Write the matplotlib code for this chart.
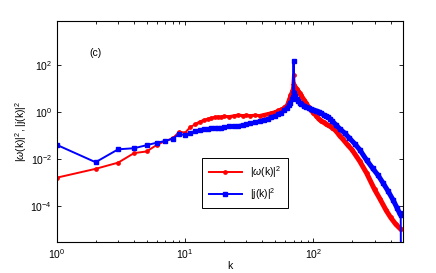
import numpy as np
import matplotlib
matplotlib.use("Agg")
import matplotlib.pyplot as plt

plt.rcParams['font.family'] = ['Liberation Sans', 'DejaVu Sans']
plt.rcParams['mathtext.fontset'] = 'custom'
plt.rcParams['mathtext.rm'] = 'Liberation Sans'
plt.rcParams['mathtext.it'] = 'Liberation Sans:italic'

# wavenumbers and spectra
k_w = [1, 2, 3, 4, 5, 6, 7, 8, 9, 10, 11, 12, 13, 14, 15, 16, 17, 18, 19, 20,
       22, 24, 26, 28, 30, 32, 35, 38, 41, 44, 47, 50, 53, 56, 59, 62, 64, 66,
       68, 69, 70, 71, 72, 74, 76, 78, 80, 84, 88, 92, 96, 100, 105, 110, 115,
       120, 125, 130, 135, 140, 150, 160, 170, 185, 200, 230, 260, 300, 330,
       370, 400, 440, 480]
omega2 = [1.6e-3, 3.8e-3, 7e-3, 0.018, 0.021, 0.04, 0.059, 0.077, 0.148, 0.134,
          0.24, 0.3, 0.38, 0.45, 0.5, 0.56, 0.6, 0.63, 0.62, 0.66,
          0.65, 0.7, 0.76, 0.72, 0.74, 0.72, 0.74, 0.72, 0.8, 0.87, 0.95, 1.05,
          1.2, 1.35, 1.6, 2.1, 3.5, 5.5,
          8.5, 11, 39, 14, 12, 10, 8.0, 6.5, 5.3, 3.5, 2.4, 1.6, 1.2, 0.95,
          0.72, 0.52, 0.43,
          0.37, 0.32, 0.28, 0.25, 0.22, 0.16, 0.1, 0.07, 0.04, 0.025, 8e-3,
          2.5e-3, 5e-4, 2e-4,
          6.3e-5, 3.2e-5, 1.6e-5, 1e-5]

k_j = [1, 2, 3, 4, 5, 6, 7, 8, 9, 10, 11, 12, 13, 14, 15, 16, 17, 18, 19, 20,
       22, 24, 26, 28, 30, 32, 35, 38, 41, 44, 47, 50, 53, 56, 59, 62, 64, 66,
       68, 69, 70, 71, 72, 74, 76, 78, 80, 84, 88, 92, 96, 100, 105, 110, 115,
       120, 125, 130, 135, 140, 150, 160, 175, 191, 210, 230, 260, 290, 320,
       350, 380, 418, 450, 470, 480, 484]
j2 = [0.04, 7.3e-3, 0.026, 0.029, 0.039, 0.05, 0.059, 0.074, 0.118, 0.104,
      0.13, 0.16, 0.17, 0.19, 0.2, 0.21, 0.21, 0.22, 0.22, 0.23,
      0.25, 0.26, 0.27, 0.29, 0.31, 0.34, 0.38, 0.43, 0.48, 0.52, 0.6, 0.7,
      0.82, 0.95, 1.2, 1.55, 2.0, 2.6,
      3.6, 4.5, 160, 6.5, 5.0, 3.6, 3.0, 2.6, 2.3, 1.9, 1.65, 1.5, 1.35, 1.25,
      1.15, 1.05, 0.9,
      0.78, 0.7, 0.62, 0.52, 0.42, 0.29, 0.2, 0.13, 0.078, 0.045, 0.025,
      9e-3, 4e-3, 2e-3,
      9.3e-4, 4.5e-4, 1.8e-4, 8e-5, 4.8e-5, 4e-5, 1e-9]

fig = plt.figure(figsize=(4.36, 2.73), dpi=100)
ax = fig.add_axes([0.1307, 0.1125, 0.7936, 0.8105])

kw = np.array(k_w)
kj = np.array(k_j)
w = np.array(omega2)
j = np.array(j2)

# thin line with markers, then a heavy overlay where the markers pile up
ax.plot(kw, w, '-', color='red', lw=1.4, marker='o', ms=2.4,
        label=r'|$\omega$(k)|$^2$')
ax.plot(kw[kw >= 12], w[kw >= 12], '-', color='red', lw=2.2)
ax.plot(kw[kw >= 71], w[kw >= 71], '-', color='red', lw=3.6)
ax.plot(kj, j, '-', color='blue', lw=1.4, marker='s', ms=2.4,
        label=r'|j(k)|$^2$')
ax.plot(kj[(kj >= 12) & (kj <= 69)], j[(kj >= 12) & (kj <= 69)], '-',
        color='blue', lw=2.2)
ax.plot(kj[(kj >= 71) & (kj <= 480)], j[(kj >= 71) & (kj <= 480)], '-',
        color='blue', lw=3.6)

ax.set_xscale('log')
ax.set_yscale('log')
ax.set_xlim(1, 500)
ax.set_ylim(10 ** -5.56, 10 ** 3.9)
ax.set_yticks([1e-4, 1e-2, 1e0, 1e2])
ax.yaxis.set_minor_locator(matplotlib.ticker.NullLocator())
ax.tick_params(which='both', direction='in', top=True, right=True,
               labelsize=7.5, width=0.6)
ax.tick_params(which='major', length=3)
ax.tick_params(which='minor', length=1.8)
for s in ax.spines.values():
    s.set_linewidth(0.8)

ax.set_xlabel('k', fontsize=7.5, labelpad=0)
ax.set_ylabel(r'|$\omega$(k)|$^2$, |j(k)|$^2$', fontsize=7.5, labelpad=1)
ax.text(0.095, 0.855, '(c)', transform=ax.transAxes, fontsize=7.5,
        va='center')

leg = ax.legend(loc='lower left', bbox_to_anchor=(0.405, 0.13), fontsize=7.5,
                fancybox=False, edgecolor='black', framealpha=1,
                handlelength=3.2, borderpad=0.6, labelspacing=0.6)
leg.get_frame().set_linewidth(0.7)

fig.savefig('out.png', dpi=100)
